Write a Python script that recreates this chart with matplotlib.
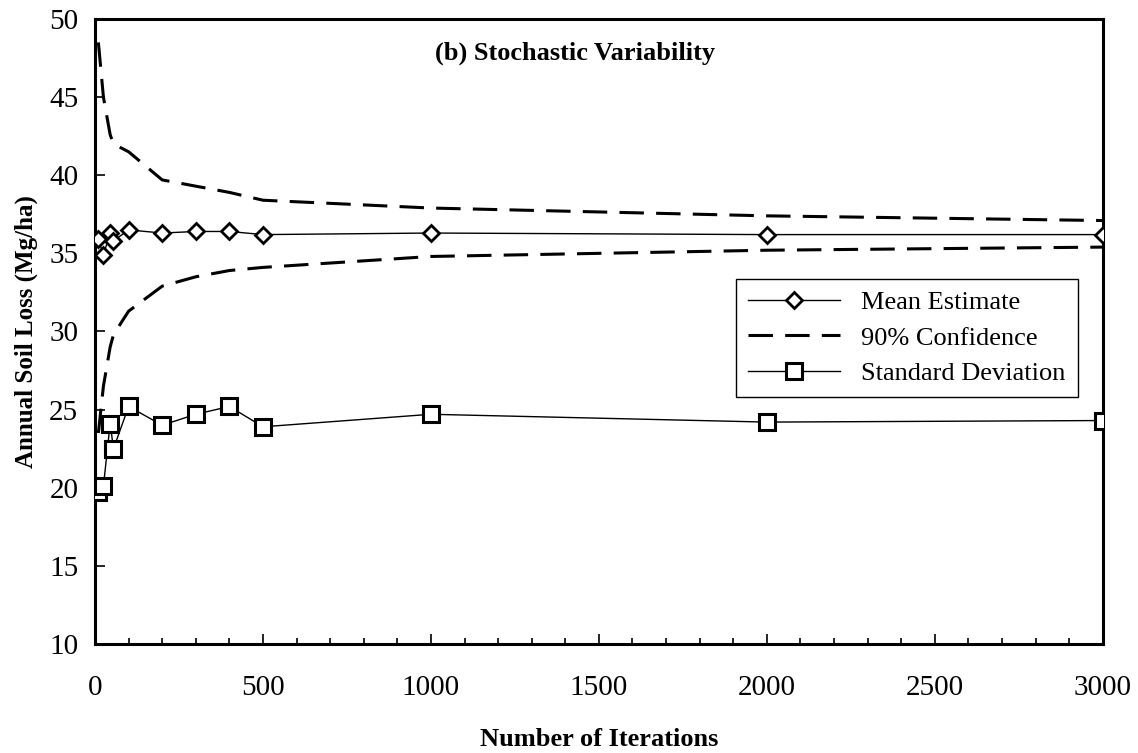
import matplotlib.pyplot as plt
from matplotlib.ticker import MultipleLocator

plt.rcParams['font.family'] = ['Liberation Serif', 'DejaVu Serif']

# iterations at which the estimates were taken
iterations = [10, 25, 45, 55, 100, 200, 300, 400, 500, 1000, 2000, 3000]
mean_est = [35.9, 34.9, 36.3, 35.8, 36.5, 36.3, 36.4, 36.4, 36.2, 36.3, 36.2, 36.2]
upper_90 = [48.5, 45.0, 42.6, 42.0, 41.5, 39.7, 39.3, 38.9, 38.4, 37.9, 37.4, 37.1]
lower_90 = [23.5, 26.5, 29.0, 29.8, 31.3, 32.9, 33.5, 33.9, 34.1, 34.8, 35.2, 35.4]
std_dev = [19.7, 20.1, 24.1, 22.5, 25.2, 24.0, 24.7, 25.2, 23.9, 24.7, 24.2, 24.3]

fig = plt.figure(figsize=(11.38, 7.53), dpi=100)
ax = fig.add_axes([0.0835, 0.1448, 0.8855, 0.83])

ax.plot(iterations, mean_est, color='black', lw=1.0, marker='D', ms=8,
        mfc='white', mec='black', mew=2.0, label='Mean Estimate', zorder=3)
ax.plot(iterations, upper_90, color='black', lw=2.2, dashes=(8, 4),
        label='90% Confidence')
ax.plot(iterations, lower_90, color='black', lw=2.2, dashes=(8, 4))
ax.plot(iterations, std_dev, color='black', lw=1.0, marker='s', ms=12,
        mfc='white', mec='black', mew=2.2, label='Standard Deviation', zorder=3)

ax.set_xlim(0, 3000)
ax.set_ylim(10, 50)
ax.xaxis.set_major_locator(MultipleLocator(500))
ax.xaxis.set_minor_locator(MultipleLocator(100))
ax.yaxis.set_major_locator(MultipleLocator(5))
ax.tick_params(which='both', direction='in', labelsize=21, width=1.2)
ax.tick_params(which='major', length=7)
ax.tick_params(which='minor', length=4)
ax.tick_params(axis='x', which='major', pad=22)
ax.tick_params(axis='y', which='major', pad=12)
for sp in ax.spines.values():
    sp.set_linewidth(2.2)

ax.set_xlabel('Number of Iterations', fontsize=19, fontweight='bold', labelpad=20)
ax.set_ylabel('Annual Soil Loss (Mg/ha)', fontsize=18, fontweight='bold', labelpad=8)
ax.text(1430, 47.8, '(b) Stochastic Variability', fontsize=19,
        fontweight='bold', ha='center', va='center')

leg = ax.legend(loc='upper right', bbox_to_anchor=(0.975, 0.584), fontsize=19,
                frameon=True, fancybox=False, edgecolor='black', framealpha=1,
                handlelength=3.5, borderpad=0.45, labelspacing=0.45,
                borderaxespad=0)
leg.get_frame().set_linewidth(1.0)

fig.savefig('out.png', dpi=100)
